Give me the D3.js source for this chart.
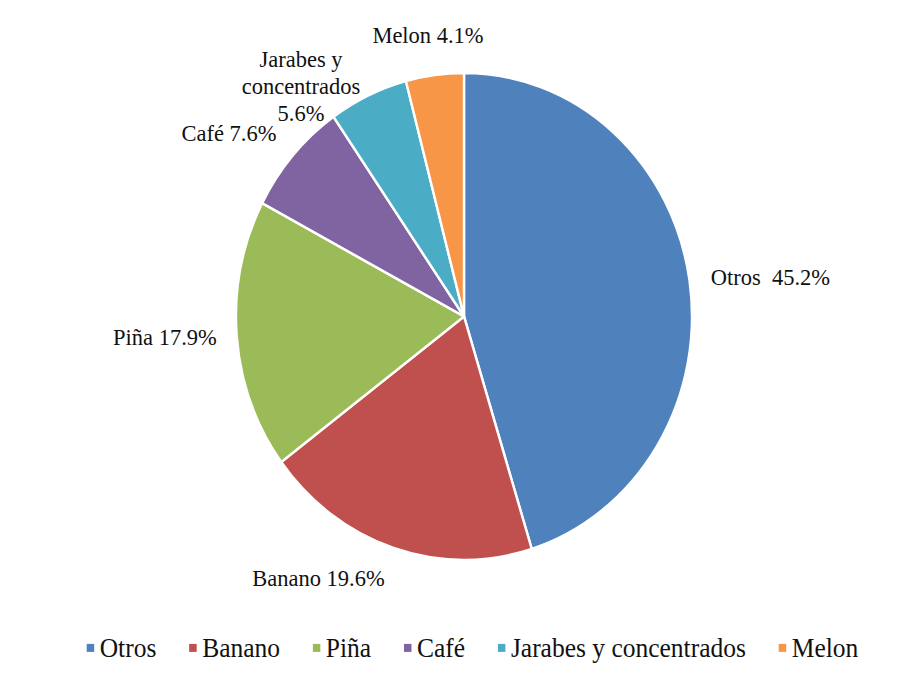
<!DOCTYPE html>
<html>
<head>
<meta charset="utf-8">
<script src="https://cdn.jsdelivr.net/npm/d3@7"></script>
<style>
  html, body { margin: 0; padding: 0; background: #fff; }
  svg { display: block; }
</style>
</head>
<body>
<script>
// Export shares by product (%)
const categories = ["Otros", "Banano", "Piña", "Café", "Jarabes y concentrados", "Melon"];
const shares = [45.2, 19.6, 17.9, 7.6, 5.6, 4.1];
const colors = ["#4F81BD", "#C0504D", "#9BBB59", "#8064A2", "#4BACC6", "#F79646"];

const data = categories.map((c, i) => ({ name: c, value: shares[i], color: colors[i] }));

const W = 902, H = 675;
const sy = 1.068;            // vertical stretch of the whole drawing
const cx = 464, cy = 296.3;  // pie centre (unstretched units)
const r = 228;
const FONT = "'Liberation Serif', 'Times New Roman', Tinos, serif";
const INK = "#111";

const svg = d3.select("body").append("svg")
  .attr("width", W).attr("height", H)
  .attr("font-family", FONT);
svg.append("rect").attr("width", W).attr("height", H).attr("fill", "#fff");

const root = svg.append("g").attr("transform", `scale(1,${sy})`);

const pie = d3.pie().sort(null).value(d => d.value).startAngle(0).endAngle(2 * Math.PI);
const arcs = pie(data);
const arc = d3.arc().innerRadius(0).outerRadius(r);

const g = root.append("g").attr("transform", `translate(${cx},${cy})`);

g.selectAll("path.slice")
  .data(arcs)
  .join("path")
  .attr("class", "slice")
  .attr("d", arc)
  .attr("fill", d => d.data.color)
  .attr("stroke", "#fff")
  .attr("stroke-width", 2.4)
  .attr("stroke-linejoin", "round");

// Data labels: placed at the slice's mid-angle on an outer ring, then nudged
const labelArc = d3.arc().innerRadius(278).outerRadius(278);
const labelNudge = {
  "Otros": [31.6, 12.4],
  "Banano": [-59.6, -12],
  "Piña": [-21.9, 4.9],
  "Café": [-26.5, 19.5],
  "Jarabes y concentrados": [-46.2, 18.7],
  "Melon": [-0.3, 19.7]
};
const fmt = v => v.toFixed(1) + "%";
function labelLines(d) {
  const n = d.data.name, v = fmt(d.data.value);
  if (n === "Jarabes y concentrados") return ["Jarabes y", "concentrados", v];
  if (n === "Otros") return [n + "\u00A0\u00A0" + v];
  return [n + " " + v];
}
const lineH = 25.3;

const labels = g.selectAll("text.lbl")
  .data(arcs)
  .join("text")
  .attr("class", "lbl")
  .attr("text-anchor", "middle")
  .attr("font-size", 22.5)
  .attr("fill", INK)
  .attr("transform", d => {
    const [x, y] = labelArc.centroid(d);
    const [dx, dy] = labelNudge[d.data.name];
    return `translate(${x + dx},${y + dy})`;
  });
labels.selectAll("tspan")
  .data(d => labelLines(d))
  .join("tspan")
  .attr("x", 0)
  .attr("y", (t, i) => i * lineH)
  .text(t => t);

// Legend along the bottom
const legendFont = 25.5, sq = 7.5, sqGap = 5.5, itemGap = 32.8;
const legendY = 615.2;       // text baseline (unstretched units)
const legendCx = 472.5;
const leg = root.append("g");
const items = leg.selectAll("g.item")
  .data(data)
  .join("g")
  .attr("class", "item");
items.append("rect")
  .attr("width", sq).attr("height", sq)
  .attr("y", legendY - 12.3)
  .attr("fill", d => d.color);
items.append("text")
  .attr("x", sq + sqGap)
  .attr("y", legendY)
  .attr("font-size", legendFont)
  .attr("fill", INK)
  .text(d => d.name);

const widths = [];
items.each(function () {
  widths.push(sq + sqGap + d3.select(this).select("text").node().getComputedTextLength());
});
const total = d3.sum(widths) + itemGap * (widths.length - 1);
let xPos = legendCx - total / 2;
items.each(function (d, i) {
  d3.select(this).attr("transform", `translate(${xPos},0)`);
  xPos += widths[i] + itemGap;
});
</script>
</body>
</html>
